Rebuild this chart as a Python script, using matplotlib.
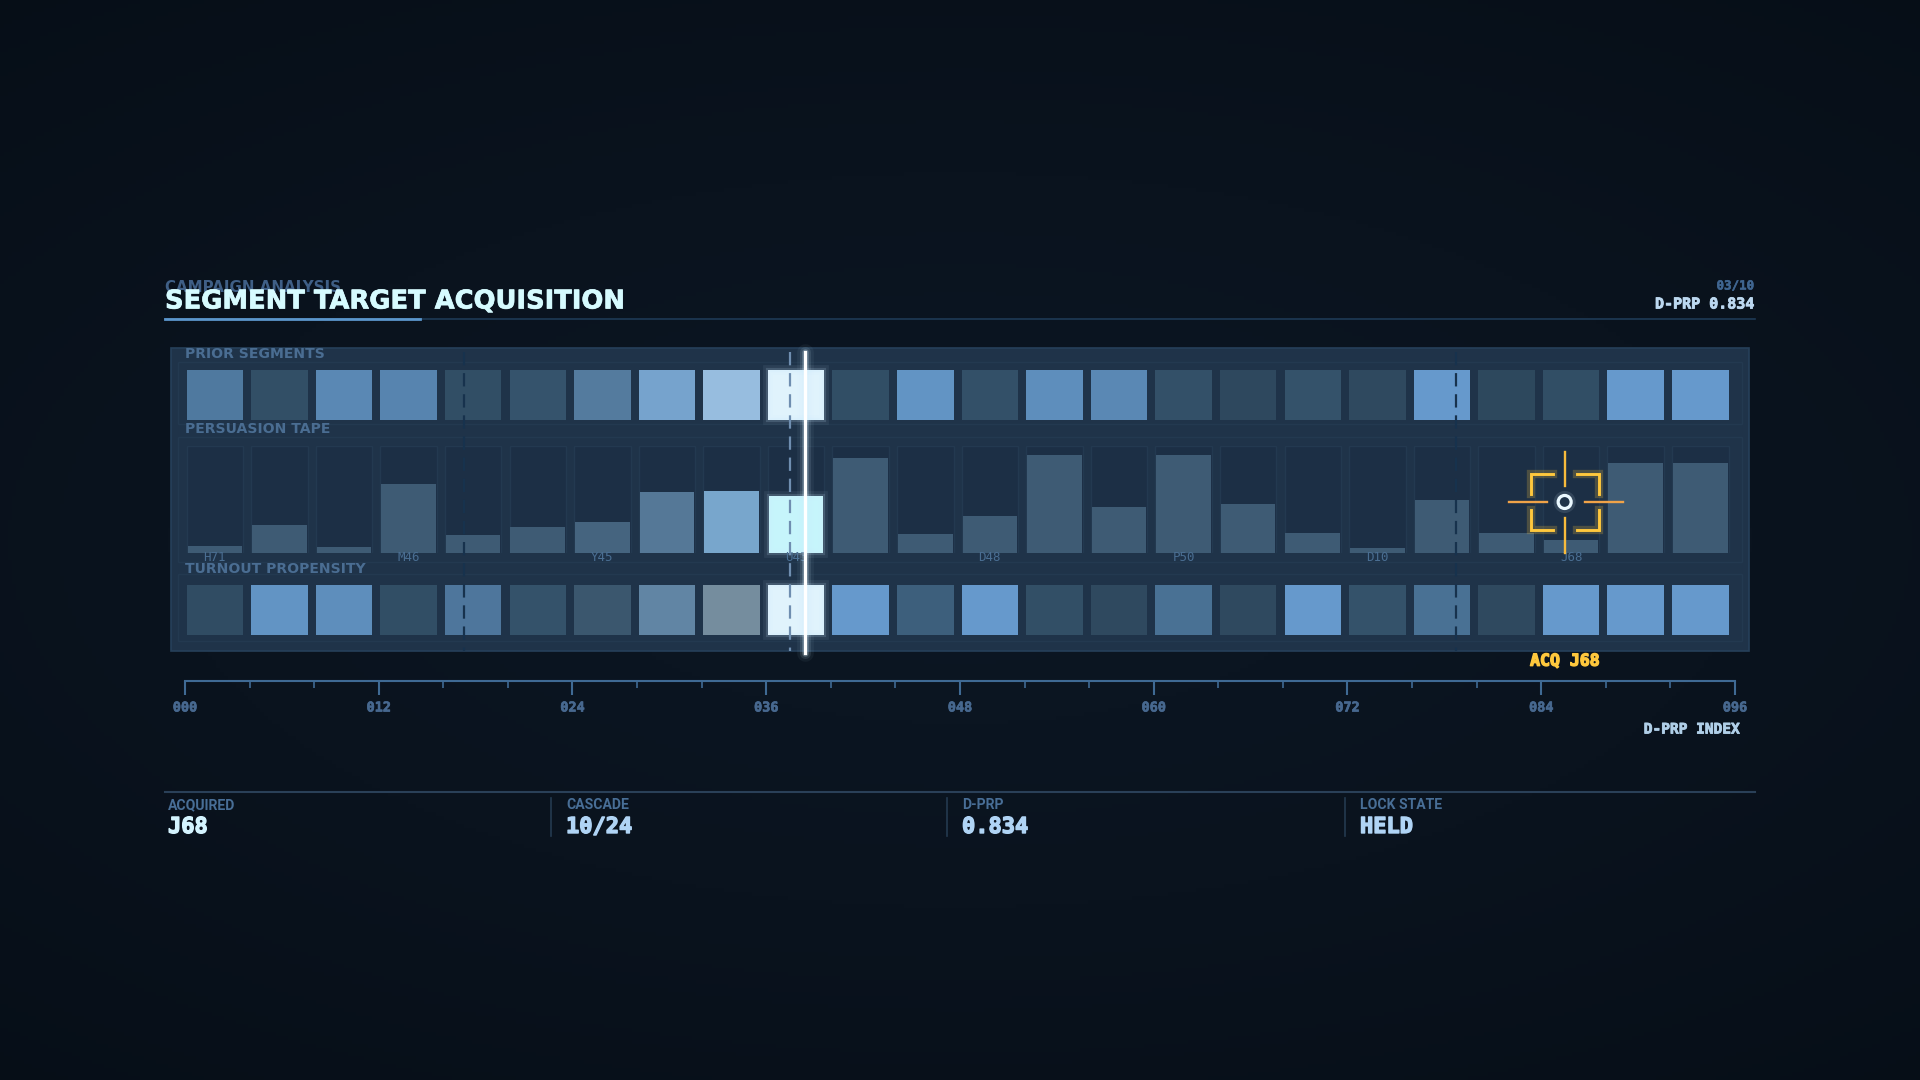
import numpy as np
import matplotlib
matplotlib.use('Agg')
import matplotlib.pyplot as plt
import matplotlib.patheffects as pe
from matplotlib.colors import LinearSegmentedColormap, to_rgb
from matplotlib.patches import Rectangle, Circle

plt.rcParams['font.family'] = ['DejaVu Sans']

# one cell per 4 index units
prior = [.72, .2, .85, .82, .18, .28, .68, .95, 1., 1., .18, .95, .22, .9, .85, .22,
         .08, .25, .1, 1., .07, .18, 1., 1.]
persuasion = [.068, .263, .056, .64, .17, .24, .29, .567, .576, .536, .888, .18,
              .35, .91, .43, .91, .46, .186, .05, .495, .186, .124, .843, .843]
turnout = [.15, .95, .9, .18, .7, .25, .2, .65, .15, 1., 1., .5, 1., .2, .1, .65,
           .1, 1., .25, .65, .1, 1., 1., 1.]
# afterglow left behind the sweep
glow = [0, 0, 0, 0, 0, 0, .05, .15, .38, .95, 0, 0, 0, 0, 0, 0, 0, 0, 0, 0, 0, 0, 0, 0]
cell_labels = {0: 'H71', 3: 'M46', 6: 'Y45', 9: 'U43', 12: 'D48', 15: 'P50', 18: 'D10', 21: 'J68'}

major_ticks = [0, 12, 24, 36, 48, 60, 72, 84, 96]
minor_ticks = [4, 8, 16, 20, 28, 32, 40, 44, 52, 56, 64, 68, 76, 80, 88, 92]
sweep_idx = 38.4
dashed_idx = [17.3, 37.46, 78.7]
target_idx = 85.45
target_val = 0.477

footer_labels = ['ACQUIRED', 'CASCADE', 'D-PRP', 'LOCK STATE']
footer_values = ['J68', '10/24', '0.834', 'HELD']
footer_x = [168, 566, 962, 1360]

W, H = 1920, 1080
X0, X1 = 185, 1735
MONO = 'DejaVu Sans Mono'
SANS = 'Roboto'


def px(v):
    return v * 0.72


def axes_at(left, top, right, bottom, z):
    a = fig.add_axes([left / W, 1 - bottom / H, (right - left) / W, (bottom - top) / H])
    a.set_zorder(z)
    a.patch.set_alpha(0)
    return a


def idx_x(i):
    return X0 + i * (X1 - X0) / 96


def mix(c, target, t):
    c = np.array(to_rgb(c))
    return tuple(c + (np.array(to_rgb(target)) - c) * t)


def fat(color, w=0.6):
    # the original type is heavier than anything installed
    return [pe.withStroke(linewidth=w, foreground=color)]


fig = plt.figure(figsize=(19.2, 10.8), dpi=100)

# background + panel
bg = axes_at(0, 0, W, H, 0)
yy, xx = np.mgrid[0:1:270j, 0:1:480j]
rr = np.sqrt(((xx - .5) / .75) ** 2 + ((yy - .5) / .62) ** 2)
bgcmap = LinearSegmentedColormap.from_list('bg', ['#0c1724', '#0a131e', '#060e17'])
bg.imshow(rr, cmap=bgcmap, vmin=0, vmax=1.1, extent=[0, W, H, 0], aspect='auto')
bg.set_xlim(0, W)
bg.set_ylim(H, 0)
bg.axis('off')
bg.add_patch(Rectangle((171, 348), 1578, 303, fc='#1f3349', ec='#26405a', lw=1.2))
for y0, y1 in [(362, 424), (437, 562), (574, 641)]:
    bg.add_patch(Rectangle((178, y0), 1564, y1 - y0, fc='none', ec='#233950', lw=1))

cellmap = LinearSegmentedColormap.from_list('cells', ['#2b4458', '#3d5f7c', '#6699cc'])
tapemap = LinearSegmentedColormap.from_list('tape', [(0, '#3e5b74'), (.38, '#78a6cc'),
                                                     (1, '#ccfcff')])
x_cells = np.arange(24) * 4 + 0.1


def halo(a, x, h, width):
    for lw, al in [(3, .16), (7, .07)]:
        a.bar(x, h, width=width, align='edge', color='none', edgecolor='#cdeaff',
              lw=lw, alpha=al, clip_on=False)


def heat_row(top, bottom, values):
    a = axes_at(X0, top, X1, bottom, 1)
    a.set_xlim(0, 96)
    a.set_ylim(0, 1)
    a.axis('off')
    colors = [mix(cellmap(v)[:3], '#e6f8ff', g) for v, g in zip(values, glow)]
    a.bar(x_cells, 1, width=3.5, align='edge', color=colors, lw=0)
    halo(a, x_cells[9], 1, 3.5)
    return a


heat_row(370, 420, prior)
heat_row(585, 634.5, turnout)

# tape
tape = axes_at(X0, 445.7, X1, 553.3, 1)
tape.set_xlim(0, 96)
tape.set_ylim(0, 1)
tape.axis('off')
tape.bar(x_cells, 1, width=3.5, align='edge', color='#1c2f45', edgecolor='#233950', lw=1)
tape.bar(x_cells + .06, persuasion, width=3.38, align='edge',
         color=[tapemap(float(g)) for g in glow], lw=0)
halo(tape, x_cells[9] + .06, persuasion[9], 3.38)
for i, lab in cell_labels.items():
    tape.text(x_cells[i] + 1.75, -0.035, lab, ha='center', va='center', color='#4a6e92',
              fontsize=px(12.5), family=MONO)

# index scale
sc = axes_at(X0, 680, X1, 681, 1)
sc.set_xlim(0, 96)
sc.set_yticks([])
for s in ['top', 'left', 'right']:
    sc.spines[s].set_visible(False)
sc.spines['bottom'].set_color('#3f6a94')
sc.spines['bottom'].set_linewidth(1.5)
sc.set_xticks(major_ticks)
sc.set_xticks(minor_ticks, minor=True)
sc.set_xticklabels(['%03d' % t for t in major_ticks], family=MONO, weight='bold',
                   fontsize=px(13.5), color='#47688f', path_effects=fat('#47688f', .5))
sc.tick_params(axis='x', which='major', length=px(14), width=1.5, color='#3f6a94', pad=px(5.5))
sc.tick_params(axis='x', which='minor', length=px(7), width=1.2, color='#3f6a94')

# overlay
ov = axes_at(0, 0, W, H, 3)
ov.set_xlim(0, W)
ov.set_ylim(H, 0)
ov.axis('off')

for d in dashed_idx:
    col = '#6f8eb0' if d == dashed_idx[1] else '#17324d'
    ov.plot([idx_x(d)] * 2, [352, 651], color=col, lw=1.6, dashes=(6, 3.5))

sx = idx_x(sweep_idx)
for lw, al in [(12, .05), (8, .1), (5, .2)]:
    ov.plot([sx, sx], [352, 653], color='#cfefff', lw=lw, alpha=al, solid_capstyle='round')
ov.plot([sx, sx], [352, 653], color='white', lw=2.4)

# crosshair
cx, cy = idx_x(target_idx), 553.3 - target_val * 107.6
ch_glow = [pe.withStroke(linewidth=6, foreground='#ffc83d', alpha=.22)]
bx0, bx1, by0, by1 = cx - 34, cx + 34, cy - 28, cy + 28
for xs, ys in [([bx0 + 22, bx0, bx0], [by0, by0, by0 + 20]),
               ([bx1 - 22, bx1, bx1], [by0, by0, by0 + 20]),
               ([bx0 + 22, bx0, bx0], [by1, by1, by1 - 20]),
               ([bx1 - 22, bx1, bx1], [by1, by1, by1 - 20])]:
    ov.plot(xs, ys, color='#ffc83d', lw=2.1, solid_joinstyle='miter', path_effects=ch_glow)
for xs, ys in [([cx, cx], [cy - 50, cy - 16]), ([cx, cx], [cy + 16, cy + 51])]:
    ov.plot(xs, ys, color='#f8bb3c', lw=1.7)
for xs, ys in [([cx - 56, cx - 18], [cy, cy]), ([cx + 20, cx + 58], [cy, cy])]:
    ov.plot(xs, ys, color='#f0a348', lw=1.7)
ov.add_patch(Circle((cx, cy), 11, fc='#dff4ff', ec='none', alpha=.12))
ov.add_patch(Circle((cx, cy), 6.5, fc='#1f3349', ec='#eaf8ff', lw=2.3))

ov.text(cx, 660.7, 'ACQ J68', ha='center', va='center', family=MONO, weight='bold',
        fontsize=px(16.5), color='#ffc83d', path_effects=fat('#ffc83d', 1))

# header
ov.plot([165, 1755], [319, 319], color='#1e3a56', lw=1.2)
ov.plot([165, 420], [319, 319], color='#5b96cc', lw=2)
ov.text(165, 288, 'CAMPAIGN ANALYSIS', ha='left', va='center', family='DejaVu Sans', weight='bold',
        fontsize=px(15), color='#3f5f86')
ov.text(165, 301.5, 'SEGMENT TARGET ACQUISITION', ha='left', va='center', family='DejaVu Sans',
        weight='bold', fontsize=px(25.8), color='#d6fbff', path_effects=fat('#d6fbff', .5))
ov.text(1754, 286, '03/10', ha='right', va='center', family=MONO, weight='bold',
        fontsize=px(12.5), color='#3f6590', path_effects=fat('#3f6590', .4))
ov.text(1754, 304, 'D-PRP 0.834', ha='right', va='center', family=MONO, weight='bold',
        fontsize=px(15), color='#bcd8f0', path_effects=fat('#bcd8f0', .6))

# row titles
for y, lab in [(354, 'PRIOR SEGMENTS'), (429, 'PERSUASION TAPE'), (568.7, 'TURNOUT PROPENSITY')]:
    ov.text(185, y, lab, ha='left', va='center', family='DejaVu Sans', weight='bold',
            fontsize=px(14), color='#4a6d92')

ov.text(1740, 729, 'D-PRP INDEX', ha='right', va='center', family=MONO, weight='bold',
        fontsize=px(14.5), color='#b0cfe8', path_effects=fat('#b0cfe8', .6))

# footer
ov.plot([165, 1755], [792, 792], color='#2a4058', lw=1.5)
for i in range(4):
    ov.text(footer_x[i], 805, footer_labels[i], ha='left', va='center', family=SANS,
            weight='bold', fontsize=px(14), color='#486e96')
    vcol = '#d4f4ff' if i == 0 else '#b0d4f5'
    ov.text(footer_x[i], 827, footer_values[i], ha='left', va='center', family=MONO,
            weight='bold', fontsize=px(22), color=vcol, path_effects=fat(vcol, 1))
    if i > 0:
        ov.plot([footer_x[i] - 15] * 2, [798, 836], color='#243a50', lw=1.2)

fig.savefig('out.png', dpi=100, facecolor='#060e18')
